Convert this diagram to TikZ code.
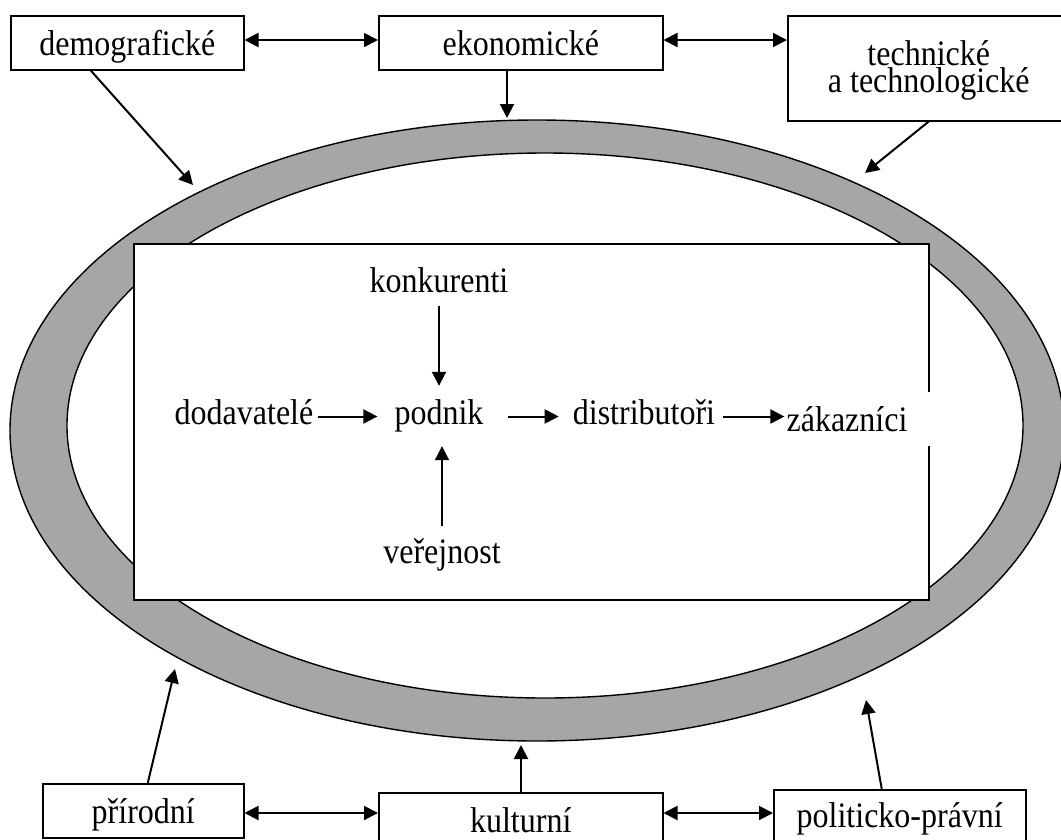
\documentclass[tikz,border=0pt]{standalone}
\usepackage{fontspec}
\usepackage{graphicx}
\setmainfont{Liberation Serif}
\usetikzlibrary{arrows.meta}
\definecolor{ringgray}{HTML}{A6A6A6}
\newcommand{\tx}[1]{\scalebox{1}[1.12]{#1}}
\begin{document}
\begin{tikzpicture}[x=1pt,y=-1pt,
  box/.style={draw,line width=1.5pt,inner sep=0pt,rectangle},
  lbl/.style={inner sep=0pt,text height=22pt,text depth=7pt},
  arr/.style={line width=2pt,-{Triangle[length=14pt,width=14pt]}},
  darr/.style={line width=2pt,{Triangle[length=14pt,width=14pt]}-{Triangle[length=14pt,width=14pt]}},
  font=\fontsize{32}{26}\selectfont]
\useasboundingbox (0,0) rectangle (1061,839);
\clip (0,0) rectangle (1061,839);
% ring
\draw[line width=1.4pt, fill=ringgray] (537,430.5) ellipse [x radius=527pt, y radius=310.5pt];
\draw[line width=1.4pt, fill=white] (545,425.5) ellipse [x radius=478pt, y radius=272.5pt];
% inner environment box
\node[box, fill=white, minimum width=795pt, minimum height=356pt, anchor=north west] (env) at (133,243) {};
\fill[white] (925,392) rectangle (931,446);
% inner labels
\node[lbl,anchor=base] (konk) at (439,292) {\tx{konkurenti}};
\node[lbl,anchor=base] (dod) at (244,424) {\tx{dodavatelé}};
\node[lbl,anchor=base] (pod) at (439,424) {\tx{podnik}};
\node[lbl,anchor=base] (dist) at (644,424) {\tx{distributoři}};
\node[lbl,anchor=base] (zak) at (847,431) {\tx{zákazníci}};
\node[lbl,anchor=base] (ver) at (442,563) {\tx{veřejnost}};
\draw[arr,shorten <=7pt,shorten >=16pt] (konk.south) -- (konk.south |- pod.north);
\draw[arr,shorten <=15pt,shorten >=15pt] (ver.north) -- (ver.north |- pod.south);
\draw[arr,shorten <=5pt,shorten >=17pt] (dod.east) -- (pod.west);
\draw[arr,shorten <=24pt,shorten >=14pt] (pod.east) -- (dist.west);
\draw[arr,shorten <=8pt,shorten >=2pt] (dist.east) -- (dist.east -| zak.west);
% outer boxes
\node[box,minimum width=233pt,text height=40pt,text depth=14pt,anchor=north west] (demo) at (10,15) {\tx{demografické}};
\node[box,minimum width=284pt,text height=40pt,text depth=14pt,anchor=north west] (eko) at (378,15) {\tx{ekonomické}};
\node[box,minimum width=282pt,minimum height=105pt,align=center,anchor=north west] (tech) at (787,15) {\rule{0pt}{30pt}\tx{technické}\\[1pt]\tx{a technologické}};
\node[box,minimum width=201pt,text height=40pt,text depth=14pt,anchor=north west] (prir) at (42,783) {\tx{přírodní}};
\node[box,minimum width=284pt,text height=40pt,text depth=14pt,anchor=north west] (kult) at (378,792) {\tx{kulturní}};
\node[box,minimum width=252pt,text height=38pt,text depth=16pt,anchor=north west] (pol) at (773,789) {\tx{politicko-právní}};
% connectors between boxes
\coordinate (yt) at (0,40);
\coordinate (yb) at (0,813);
\draw[darr] (demo.east |- yt) -- (eko.west |- yt);
\draw[darr] (eko.east |- yt) -- (tech.west |- yt);
\draw[darr] (prir.east |- yb) -- (kult.west |- yb);
\draw[darr] (kult.east |- yb) -- (pol.west |- yb);
% arrows to the ring
\coordinate (t1) at (193,185);
\coordinate (t2) at (507,118);
\coordinate (t3) at (865,173);
\coordinate (t4) at (175,669);
\coordinate (t5) at (521,745);
\coordinate (t6) at (866,700);
\draw[arr] ([xshift=-36.5pt]demo.south) -- (t1);
\draw[arr] (t2 |- eko.south) -- (t2);
\draw[arr] (tech.south) -- (t3);
\draw[arr] ([xshift=4.5pt]prir.north) -- (t4);
\draw[arr] (t5 |- kult.north) -- (t5);
\draw[arr] ([xshift=-18pt]pol.north) -- (t6);
\end{tikzpicture}
\end{document}
